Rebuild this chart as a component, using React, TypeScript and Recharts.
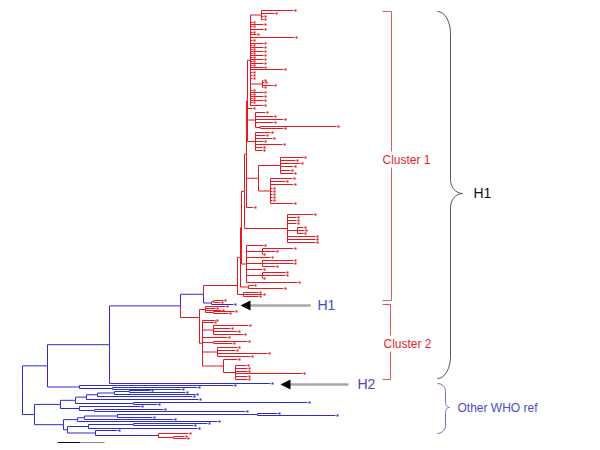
import React from 'react';
import { ComposedChart, XAxis, YAxis, ReferenceLine, Scatter } from 'recharts';

type C = 'r' | 'b';

// Internal nodes: [id, parent, branch depth (x), clade colour, optional fixed row]
const NODES: [string, string, number, C, number?][] = [
  ['R', '', 22, 'b'],
  ['N47', 'R', 47, 'b'],
  ['N109', 'N47', 109, 'b'],
  ['N180', 'N109', 180, 'b'],
  ['N203', 'N180', 203, 'b'],
  ['C1', 'N203', 237, 'r', 285],
  ['L3', 'C1', 240, 'r'],
  ['L4', 'L3', 241, 'r'],
  ['N246', 'L4', 244, 'r'],
  ['M3', 'N246', 246, 'r'],
  ['M2', 'M3', 247, 'r'],
  ['M', 'M2', 250, 'r'],
  ['T0', 'M', 261, 'r'],
  ['T1', 'M', 262, 'r'],
  ['T2', 'M2', 255, 'r'],
  ['T2b', 'T2', 260, 'r'],
  ['T3', 'M2', 255, 'r'],
  ['S3', 'M3', 258, 'r'],
  ['U1', 'S3', 280, 'r'],
  ['U2', 'S3', 270, 'r'],
  ['S4', 'N246', 287, 'r'],
  ['V', 'S4', 297, 'r'],
  ['S5', 'L4', 246, 'r'],
  ['X1', 'S5', 262, 'r'],
  ['X2', 'S5', 262, 'r'],
  ['X3', 'S5', 262, 'r'],
  ['Bb', 'L3', 248, 'r'],
  ['B', 'C1', 243, 'r'],
  ['H1c', 'N203', 211, 'b'],
  ['H1r', 'H1c', 213, 'r'],
  ['C2', 'N180', 199, 'r', 317],
  ['P', 'C2', 205, 'r'],
  ['P2', 'P', 213, 'r'],
  ['Q', 'C2', 202, 'r'],
  ['Q1', 'Q', 213, 'r'],
  ['Q2', 'Q', 213, 'r'],
  ['Q3', 'Q', 217, 'r'],
  ['Z', 'Q', 223, 'r'],
  ['Z2', 'Z', 235, 'r'],
  ['N79', 'N47', 79, 'b'],
  ['N112', 'N79', 112, 'b'],
  ['N34', 'R', 34, 'b'],
  ['W1', 'N34', 60, 'b'],
  ['W2', 'W1', 75, 'b'],
  ['W3', 'W2', 86, 'b'],
  ['W4', 'W3', 97, 'b'],
  ['W5', 'W4', 114, 'b'],
  ['W6', 'W5', 129, 'b'],
  ['W8', 'W2', 133, 'b'],
  ['W9', 'W1', 79, 'b'],
  ['W10', 'W9', 94, 'b'],
  ['W11', 'N34', 63, 'b'],
  ['W12', 'W11', 77, 'b'],
  ['W13', 'W12', 84, 'b'],
  ['W14', 'W13', 117, 'b'],
  ['W15', 'W14', 257, 'b'],
  ['W16', 'W11', 67, 'b'],
  ['W17', 'W16', 88, 'b'],
  ['W18', 'W17', 133, 'b'],
  ['W19', 'W16', 95, 'b'],
  ['W20', 'W19', 158, 'b'],
  ['W21', 'W20', 173, 'r'],
];

// Leaves: [parent, tip depth (x), row (y), colour]
const LEAVES: [string, number, number, C][] = [
  ['T0', 293, 10, 'r'], ['T0', 274, 13, 'r'], ['T0', 263, 16, 'r'], ['T0', 263, 19, 'r'],
  ['M', 252, 22, 'r'], ['M', 263, 24, 'r'], ['M', 252, 26, 'r'], ['M', 263, 29, 'r'],
  ['M', 252, 32, 'r'], ['M', 256, 34, 'r'], ['M', 294, 37, 'r'], ['M', 252, 40, 'r'],
  ['M', 263, 43, 'r'], ['M', 252, 45, 'r'], ['M', 263, 47, 'r'], ['M', 252, 49, 'r'],
  ['M', 263, 51, 'r'], ['M', 252, 53, 'r'], ['M', 263, 55, 'r'], ['M', 252, 57, 'r'],
  ['M', 263, 59, 'r'], ['M', 252, 61, 'r'], ['M', 263, 63, 'r'], ['M', 252, 65, 'r'],
  ['M', 263, 67, 'r'], ['M', 283, 69, 'r'], ['M', 252, 72, 'r'], ['M', 252, 75, 'r'],
  ['M', 252, 78, 'r'],
  ['T1', 263, 80, 'r'], ['T1', 264, 82, 'r'], ['T1', 273, 85, 'r'], ['T1', 263, 87, 'r'],
  ['M', 252, 90, 'r'], ['M', 263, 92, 'r'], ['M', 252, 94, 'r'], ['M', 263, 96, 'r'],
  ['M', 252, 98, 'r'], ['M', 263, 100, 'r'], ['M', 252, 102, 'r'], ['M', 263, 105, 'r'],
  ['M2', 252, 108, 'r'],
  ['T2', 265, 112, 'r'], ['T2', 273, 116, 'r'], ['T2', 283, 119, 'r'], ['T2', 273, 122, 'r'],
  ['T2b', 336, 126, 'r'], ['T2b', 283, 128, 'r'],
  ['T3', 270, 132, 'r'], ['T3', 265, 135, 'r'], ['T3', 272, 138, 'r'], ['T3', 263, 141, 'r'],
  ['T3', 282, 144, 'r'], ['T3', 262, 147, 'r'], ['T3', 262, 150, 'r'],
  ['U1', 303, 157, 'r'], ['U1', 295, 160, 'r'], ['U1', 300, 163, 'r'], ['U1', 293, 166, 'r'],
  ['U1', 290, 170, 'r'], ['U1', 293, 173, 'r'],
  ['U2', 292, 178, 'r'], ['U2', 285, 181, 'r'], ['U2', 293, 184, 'r'], ['U2', 272, 188, 'r'],
  ['U2', 272, 191, 'r'], ['U2', 272, 194, 'r'], ['U2', 272, 197, 'r'], ['U2', 272, 200, 'r'],
  ['U2', 293, 203, 'r'],
  ['M3', 253, 207, 'r'],
  ['S4', 313, 214, 'r'], ['S4', 296, 217, 'r'], ['S4', 296, 220, 'r'], ['S4', 296, 223, 'r'],
  ['V', 303, 227, 'r'], ['V', 304, 230, 'r'], ['V', 303, 233, 'r'],
  ['S4', 315, 236, 'r'], ['S4', 315, 239, 'r'], ['S4', 315, 242, 'r'],
  ['S5', 263, 245, 'r'],
  ['X1', 293, 248, 'r'], ['X1', 275, 251, 'r'], ['X1', 262, 254, 'r'],
  ['S5', 270, 257, 'r'],
  ['X2', 293, 260, 'r'], ['X2', 293, 263, 'r'], ['X2', 275, 266, 'r'],
  ['S5', 262, 269, 'r'],
  ['X3', 285, 272, 'r'], ['X3', 285, 275, 'r'], ['X3', 262, 278, 'r'],
  ['S5', 297, 282, 'r'],
  ['Bb', 253, 285, 'r'], ['Bb', 283, 288, 'r'],
  ['B', 258, 292, 'r'], ['B', 262, 294, 'r'], ['B', 258, 296, 'r'],
  ['H1r', 223, 300, 'r'], ['H1r', 220, 302, 'r'], ['H1c', 233, 304, 'b'],
  ['P', 225, 306, 'r'], ['P', 215, 308, 'r'], ['P', 221, 310, 'r'],
  ['P2', 234, 311, 'r'], ['P2', 228, 313, 'r'],
  ['Q', 215, 320, 'r'], ['Q', 213, 322, 'r'],
  ['Q1', 248, 325, 'r'], ['Q1', 230, 328, 'r'], ['Q1', 237, 331, 'r'], ['Q1', 243, 334, 'r'],
  ['Q', 227, 337, 'r'],
  ['Q2', 247, 341, 'r'], ['Q2', 232, 343, 'r'],
  ['Q3', 237, 347, 'r'], ['Q3', 235, 350, 'r'], ['Q3', 267, 353, 'r'], ['Q3', 250, 356, 'r'],
  ['Z', 237, 359, 'r'],
  ['Z2', 246, 365, 'r'], ['Z2', 247, 368, 'r'], ['Z2', 247, 371, 'r'], ['Z2', 302, 373, 'r'],
  ['Z2', 247, 376, 'r'], ['Z2', 247, 379, 'r'],
  ['N109', 270, 383, 'b'],
  ['N79', 233, 385, 'b'],
  ['N112', 197, 387, 'b'], ['N112', 181, 389, 'b'],
  ['W6', 150, 390, 'b'], ['W6', 185, 392, 'b'],
  ['W5', 195, 394, 'b'], ['W4', 192, 396, 'b'], ['W3', 198, 399, 'b'],
  ['W8', 307, 402, 'b'], ['W8', 157, 404, 'b'],
  ['W9', 140, 406, 'b'],
  ['W10', 163, 409, 'b'], ['W10', 245, 411, 'b'],
  ['W15', 277, 413, 'b'], ['W15', 335, 415, 'b'],
  ['W14', 152, 417, 'b'], ['W13', 173, 419, 'b'], ['W12', 217, 421, 'b'],
  ['W18', 207, 423, 'b'], ['W18', 193, 425, 'b'],
  ['W17', 197, 428, 'b'],
  ['W19', 117, 430, 'b'],
  ['W20', 188, 433, 'r'],
  ['W21', 184, 436, 'r'], ['W21', 186, 438, 'r'],
];

// Scale bar [x start, x mid, x end, row]
const SCALE_BAR = [57, 80, 104, 442];

const LABELS = [
  { text: 'Cluster 1', x: 382, y: 159, kind: 'cluster' },
  { text: 'Cluster 2', x: 383, y: 343, kind: 'cluster' },
  { text: 'H1', x: 473, y: 193, kind: 'h1big' },
  { text: 'Other WHO ref', x: 457, y: 407, kind: 'who' },
  { text: 'H1', x: 317, y: 305, kind: 'hblue' },
  { text: 'H2', x: 357, y: 384, kind: 'hblue' },
];

const ARROWS = [
  { x: 240, y: 305, tail: 310 },
  { x: 280, y: 384, tail: 348 },
];

const BRACKETS = [
  { x: 391, x0: 382, y1: 11, y2: 300 },
  { x: 390, x0: 382, y1: 304, y2: 379 },
];

const BRACES = [
  { y1: 11, y2: 378, ym: 193, xb: 437, xs: 450, xt: 462, r: 22, r2: 14, color: '#555555' },
  { y1: 383, y2: 433, ym: 407, xb: 437, xs: 445, xt: 449, r: 8, r2: 5, color: '#6b6bd6' },
];

const COL: Record<C, string> = { r: '#e8161e', b: '#2c2cd0' };

// ---------- layout ----------
const nodeInfo: Record<string, { parent: string; x: number; color: C; fixed?: number }> = {};
NODES.forEach(([id, parent, x, color, fixed]) => {
  nodeInfo[id] = { parent, x, color, fixed };
});
const kids: Record<string, { y: () => number; x: number; color: C }[]> = {};
const yCache: Record<string, number> = {};
function nodeY(id: string): number {
  if (yCache[id] !== undefined) return yCache[id];
  const info = nodeInfo[id];
  let y: number;
  if (info.fixed !== undefined) y = info.fixed;
  else {
    const ys = (kids[id] || []).map((k) => k.y());
    y = (Math.min(...ys) + Math.max(...ys)) / 2;
  }
  yCache[id] = y;
  return y;
}
NODES.forEach(([id, parent, x, color]) => {
  if (!parent) return;
  (kids[parent] = kids[parent] || []).push({ y: () => nodeY(id), x, color });
});
LEAVES.forEach(([parent, x, y, color]) => {
  (kids[parent] = kids[parent] || []).push({ y: () => y, x, color });
});

type Seg = { x1: number; y1: number; x2: number; y2: number; stroke: string; w?: number };
const treeSegs: Seg[] = [];
Object.keys(kids).forEach((pid) => {
  const px = nodeInfo[pid].x;
  const py = nodeY(pid);
  kids[pid].forEach((k) => {
    const cy = k.y();
    const stroke = COL[k.color];
    if (cy !== py) treeSegs.push({ x1: px, y1: py, x2: px, y2: cy, stroke });
    treeSegs.push({ x1: px, y1: cy, x2: k.x, y2: cy, stroke });
  });
});

const tipData = LEAVES.map(([, x, y, color]) => ({ x, y, color }));

const annSegs: Seg[] = [];
annSegs.push({ x1: SCALE_BAR[0], y1: SCALE_BAR[3], x2: SCALE_BAR[1], y2: SCALE_BAR[3], stroke: '#111' });
annSegs.push({ x1: SCALE_BAR[1], y1: SCALE_BAR[3], x2: SCALE_BAR[2], y2: SCALE_BAR[3], stroke: '#8a8a8a' });
BRACKETS.forEach((b) => {
  const s = '#e25a5a';
  annSegs.push({ x1: b.x, y1: b.y1, x2: b.x, y2: b.y2, stroke: s });
  annSegs.push({ x1: b.x0, y1: b.y1, x2: b.x, y2: b.y1, stroke: s });
  annSegs.push({ x1: b.x0, y1: b.y2, x2: b.x, y2: b.y2, stroke: s });
});
BRACES.forEach((b) => {
  const n = 8;
  const pts: [number, number][] = [];
  for (let i = 0; i <= n; i++) {
    const a = (i / n) * (Math.PI / 2);
    pts.push([b.xb + (b.xs - b.xb) * Math.sin(a), b.y1 + b.r * (1 - Math.cos(a))]);
  }
  for (let i = 0; i <= n; i++) {
    const a = (i / n) * (Math.PI / 2);
    pts.push([b.xs + (b.xt - b.xs) * (1 - Math.cos(a)), b.ym - b.r2 * (1 - Math.sin(a))]);
  }
  for (let i = n; i >= 0; i--) {
    const a = (i / n) * (Math.PI / 2);
    pts.push([b.xs + (b.xt - b.xs) * (1 - Math.cos(a)), b.ym + b.r2 * (1 - Math.sin(a))]);
  }
  for (let i = n; i >= 0; i--) {
    const a = (i / n) * (Math.PI / 2);
    pts.push([b.xb + (b.xs - b.xb) * Math.sin(a), b.y2 - b.r * (1 - Math.cos(a))]);
  }
  for (let i = 0; i < pts.length - 1; i++) {
    annSegs.push({ x1: pts[i][0], y1: pts[i][1], x2: pts[i + 1][0], y2: pts[i + 1][1], stroke: b.color });
  }
});
ARROWS.forEach((a) => {
  annSegs.push({ x1: a.x + 8, y1: a.y, x2: a.tail, y2: a.y, stroke: '#a8a8a8', w: 2.5 });
});

const FONT = '"Liberation Sans", Arial, sans-serif';

const TipShape = (p: any) => (
  <rect x={p.cx + 1} y={p.cy - 1} width={2} height={2} fill={COL[p.payload.color as C]} />
);

const ArrowShape = (p: any) => (
  <polygon
    points={`${p.cx},${p.cy} ${p.cx + 10},${p.cy - 5} ${p.cx + 10},${p.cy + 5}`}
    fill="#000"
  />
);

const LabelShape = (p: any) => {
  const d = p.payload;
  if (d.kind === 'cluster') {
    return (
      <g>
        <rect x={p.cx - 1} y={p.cy - 8} width={49} height={16} fill="#fff" />
        <text x={p.cx} y={p.cy} dy="0.35em" fontSize={12} fill="#e8262a" fontFamily={FONT}>
          {d.text}
        </text>
      </g>
    );
  }
  if (d.kind === 'h1big') {
    return (
      <text x={p.cx} y={p.cy} dy="0.35em" fontSize={14} fill="#111" fontFamily={FONT}>
        {d.text}
      </text>
    );
  }
  if (d.kind === 'who') {
    return (
      <text x={p.cx} y={p.cy} dy="0.35em" fontSize={12} fill="#4c4cc8" fontFamily={FONT}>
        {d.text}
      </text>
    );
  }
  return (
    <text x={p.cx} y={p.cy} dy="0.35em" fontSize={14} fill="#4646c8" fontFamily={FONT}>
      {d.text}
    </text>
  );
};

export default function App() {
  return (
    <div style={{ position: 'absolute', left: 0, top: 0, width: 600, height: 450, background: '#fff' }}>
      <ComposedChart width={600} height={450} margin={{ top: 0, right: 0, bottom: 0, left: 0 }}>
        <XAxis type="number" dataKey="x" domain={[-0.5, 599.5]} hide allowDataOverflow />
        <YAxis type="number" dataKey="y" domain={[-0.5, 449.5]} reversed hide allowDataOverflow />
        {treeSegs.map((s, i) => (
          <ReferenceLine
            key={'t' + i}
            segment={[{ x: s.x1, y: s.y1 }, { x: s.x2, y: s.y2 }]}
            stroke={s.stroke}
            strokeWidth={1}
            ifOverflow="visible"
          />
        ))}
        {annSegs.map((s, i) => (
          <ReferenceLine
            key={'a' + i}
            segment={[{ x: s.x1, y: s.y1 }, { x: s.x2, y: s.y2 }]}
            stroke={s.stroke}
            strokeWidth={s.w || 1}
            ifOverflow="visible"
          />
        ))}
        <Scatter data={tipData} dataKey="y" shape={TipShape} isAnimationActive={false} />
        <Scatter data={ARROWS} dataKey="y" shape={ArrowShape} isAnimationActive={false} />
        <Scatter data={LABELS} dataKey="y" shape={LabelShape} isAnimationActive={false} />
      </ComposedChart>
    </div>
  );
}
